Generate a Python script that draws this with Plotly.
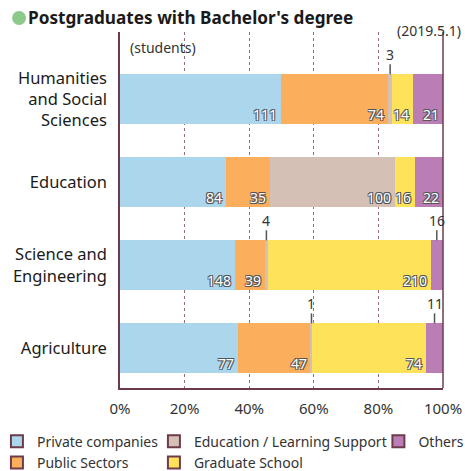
import plotly.graph_objects as go

categories = ["Humanities<br>and Social<br>Sciences", "Education", "Science and<br>Engineering", "Agriculture"]
series_names = ["Private companies", "Public Sectors", "Education / Learning Support", "Graduate School", "Others"]
private_companies = [111, 84, 148, 77]
public_sectors = [74, 35, 39, 47]
education_support = [3, 100, 4, 1]
graduate_school = [14, 16, 210, 74]
others = [21, 22, 16, 11]
x_ticks = [0, 20, 40, 60, 80, 100]
x_ticklabels = ["0%", "20%", "40%", "60%", "80%", "100%"]

series_values = [private_companies, public_sectors, education_support, graduate_school, others]
colors = ["#acd6ec", "#fbaf5d", "#d5c0b6", "#fee35a", "#ba7db6"]

totals = [sum(v[i] for v in series_values) for i in range(len(categories))]

FONT = "Noto Sans"
DARK = "#333333"
AXIS = "#6e3b4a"
BAR_W = 0.6

FIG_W, FIG_H = 465, 471

fig = go.Figure()
for name, vals, col in zip(series_names, series_values, colors):
    pct = [v / t * 100 for v, t in zip(vals, totals)]
    fig.add_trace(go.Bar(
        y=categories, x=pct, orientation="h", name=name,
        marker=dict(color=col, line=dict(width=0)),
        width=BAR_W, showlegend=False, hoverinfo="skip",
    ))

# legend entries (three columns)
legend_of = ["legend", "legend", "legend2", "legend2", "legend3"]
for name, col, lg in zip(series_names, colors, legend_of):
    fig.add_trace(go.Bar(
        y=[None], x=[None], orientation="h", name=name,
        marker=dict(color=col, line=dict(color=AXIS, width=1)),
        legend=lg, showlegend=True,
    ))

outline = "-1px -1px 0 #555, 1px -1px 0 #555, -1px 1px 0 #555, 1px 1px 0 #555"
annotations = []
shapes = []
for ci, cat in enumerate(categories):
    cum = 0.0
    for vals in series_values:
        v = vals[ci]
        share = v / totals[ci] * 100
        start = cum
        cum += share
        if share >= 6:
            annotations.append(dict(
                x=cum, y=cat, xref="x", yref="y", text=str(v), showarrow=False,
                xanchor="right", yanchor="bottom", xshift=-2, yshift=-27,
                font=dict(family=FONT, size=14, color="white", shadow=outline),
            ))
        else:
            mid = (start + cum) / 2
            annotations.append(dict(
                x=mid, y=cat, xref="x", yref="y", text=str(v), showarrow=False,
                xanchor="center", yanchor="bottom", yshift=33,
                font=dict(family=FONT, size=14, color=DARK),
            ))
            shapes.append(dict(
                type="line", xref="x", yref="y", x0=mid, x1=mid,
                y0=ci - BAR_W / 2, y1=ci - BAR_W / 2 - 0.12,
                line=dict(color="#555555", width=1.5),
            ))

# right border line
shapes.append(dict(type="line", xref="paper", yref="paper", x0=1, x1=1, y0=0, y1=1,
                   line=dict(color=AXIS, width=1.5), layer="above"))
# green dot before title
shapes.append(dict(type="circle", xref="paper", yref="paper",
                   x0=-0.334, x1=-0.291, y0=1.0197, y1=1.059,
                   fillcolor="#8dc98a", line=dict(width=0)))

annotations.append(dict(
    x=1, y=1, xref="paper", yref="paper", text="(2019.5.1)", showarrow=False,
    xanchor="right", yanchor="middle", xshift=20, yshift=2,
    font=dict(family=FONT, size=14, color=DARK),
))
annotations.append(dict(
    x=0, y=1, xref="paper", yref="paper", text="(students)", showarrow=False,
    xanchor="left", yanchor="middle", xshift=8, yshift=-15,
    font=dict(family=FONT, size=14, color=DARK),
))

legend_common = dict(
    orientation="v", yanchor="top", y=-0.106, xanchor="left",
    font=dict(family=FONT, size=14, color=DARK), bgcolor="rgba(0,0,0,0)",
    tracegroupgap=0, itemsizing="constant", traceorder="normal",
)

fig.update_layout(
    width=FIG_W, height=FIG_H,
    margin=dict(l=120, r=22, t=32, b=83, autoexpand=False),
    paper_bgcolor="white", plot_bgcolor="white",
    barmode="stack", bargap=0,
    title=dict(
        text="<b>Postgraduates with Bachelor's degree</b>",
        x=28 / FIG_W, xanchor="left", y=1 - 18 / FIG_H, yanchor="middle",
        font=dict(family=FONT, size=17.2, color="#1a1a1a"),
    ),
    xaxis=dict(
        range=[0, 100], tickvals=x_ticks, ticktext=x_ticklabels,
        showgrid=True, gridcolor="#9a6b7b", griddash="dot", gridwidth=1,
        showline=True, linecolor=AXIS, linewidth=1.5,
        zeroline=False, ticks="", ticklabelstandoff=6,
        tickfont=dict(family=FONT, size=15, color=DARK),
        fixedrange=True,
    ),
    yaxis=dict(
        type="category", range=[3.48, -0.81],
        showline=True, linecolor=AXIS, linewidth=1.5, showgrid=False,
        ticks="", ticklabelstandoff=8,
        tickfont=dict(family=FONT, size=16.5, color="#1a1a1a"),
        fixedrange=True,
    ),
    legend=dict(x=-0.381, **legend_common),
    legend2=dict(x=0.105, **legend_common),
    legend3=dict(x=0.800, **legend_common),
    annotations=annotations,
    shapes=shapes,
)

fig.write_html(
    "out.html",
    config={"displayModeBar": False},
    post_script="document.body.style.margin='0';document.body.style.overflow='hidden';",
)
